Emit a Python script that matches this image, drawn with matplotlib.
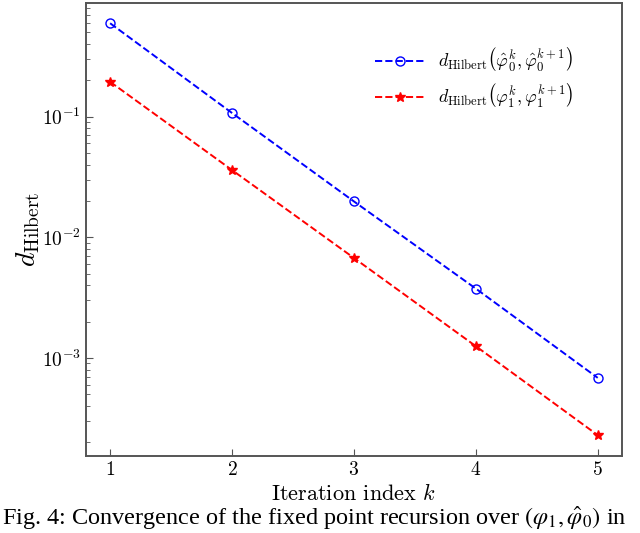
import numpy as np
import matplotlib
matplotlib.use("Agg")
import matplotlib.pyplot as plt

plt.rcParams['font.family'] = 'serif'
plt.rcParams['font.serif'] = ['cmr10']
plt.rcParams['mathtext.fontset'] = 'cm'
plt.rcParams['axes.formatter.use_mathtext'] = True
plt.rcParams['axes.unicode_minus'] = False

k = [1, 2, 3, 4, 5]
d_phi0 = [0.593, 0.107, 0.0198, 0.00375, 0.000683]
d_phi1 = [0.194, 0.036, 0.00673, 0.00125, 0.000229]

fig = plt.figure(figsize=(6.4, 5.33), dpi=100)
ax = fig.add_axes([0.134, 0.145, 0.838, 0.85])

ax.plot(k, d_phi0, '--', color='blue', marker='o', mfc='none', ms=6.5, lw=1.4,
        label=r'$d_{\mathrm{Hilbert}}\left(\hat{\varphi}_0^k, \hat{\varphi}_0^{k+1}\right)$')
ax.plot(k, d_phi1, '--', color='red', marker='*', ms=7, lw=1.4,
        label=r'$d_{\mathrm{Hilbert}}\left(\varphi_1^k, \varphi_1^{k+1}\right)$')
ax.set_yscale('log')
ax.set_xticks(k)

ax.set_xlabel(r'Iteration index $k$', fontsize=16, labelpad=3)
ax.set_ylabel(r'$d_{\mathrm{Hilbert}}$', fontsize=20, labelpad=0)
ax.tick_params(which='both', direction='in', labelsize=14, color='#555555')
ax.tick_params(which='major', length=5)
ax.tick_params(which='minor', length=3)
for s in ax.spines.values():
    s.set_color('#555555')
    s.set_linewidth(1.4)

ax.legend(loc='upper right', frameon=False, fontsize=13, handlelength=2.8,
          labelspacing=0.45, handletextpad=0.7, bbox_to_anchor=(0.94, 0.94))

fig.text(0.003, 0.002, r'Fig. 4: Convergence of the fixed point recursion over $(\varphi_1, \hat{\varphi}_0)$ in',
         family='Liberation Serif', math_fontfamily='stix', fontsize=17.5, va='bottom', ha='left')

fig.savefig('out.png', dpi=100)
